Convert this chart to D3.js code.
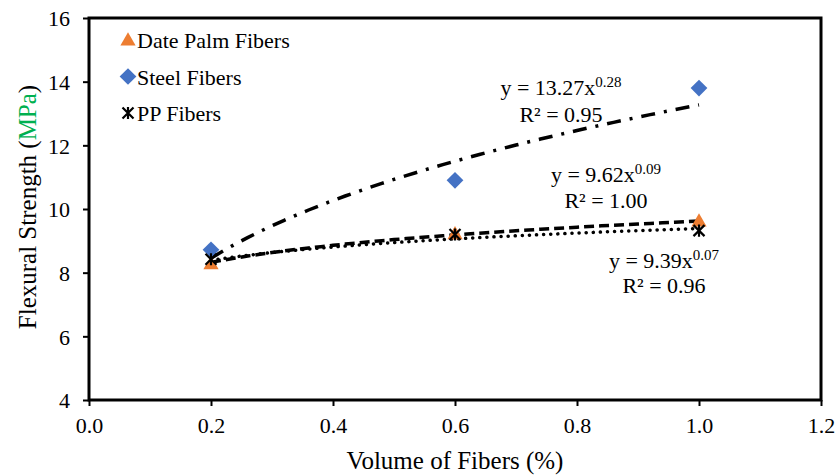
<!DOCTYPE html>
<html>
<head>
<meta charset="utf-8">
<script src="https://cdn.jsdelivr.net/npm/d3@7"></script>
<style>
  body { margin: 0; background: #fff; }
</style>
</head>
<body>
<div id="chart"></div>
<script>
// data
var volumes = [0.2, 0.6, 1.0];
var datePalm = [8.28, 9.22, 9.62];
var steel = [8.72, 10.9, 13.8];
var ppFibers = [8.42, 9.2, 9.32];

var xTicks = [0.0, 0.2, 0.4, 0.6, 0.8, 1.0, 1.2];
var yTicks = [4, 6, 8, 10, 12, 14, 16];

// power trendlines y = a*x^b as printed on the chart
var trendCoef = { steel: [13.27, 0.28], palm: [9.62, 0.09], pp: [9.39, 0.07] };

const width = 835, height = 476;
const margin = { left: 89, right: 14, top: 18, bottom: 76 };
const serif = "'Liberation Serif', 'Times New Roman', Times, serif";

var svg = d3.select("#chart").append("svg")
    .attr("width", width)
    .attr("height", height)
    .style("font-family", serif);

var x = d3.scaleLinear().domain([0, 1.2]).range([margin.left, width - margin.right]);
var y = d3.scaleLinear().domain([4, 16]).range([height - margin.bottom, margin.top]);

// axes
var xAxis = svg.append("g")
    .attr("transform", "translate(0," + y(4) + ")")
    .call(d3.axisBottom(x).tickValues(xTicks).tickFormat(d3.format(".1f")).tickSize(6).tickSizeOuter(0));
var yAxis = svg.append("g")
    .attr("transform", "translate(" + x(0) + ",0)")
    .call(d3.axisLeft(y).tickValues(yTicks).tickFormat(d3.format("d")).tickSize(6).tickSizeOuter(0));

[xAxis, yAxis].forEach(function(a) {
    a.style("font-family", serif);
    a.select(".domain").remove();
    a.selectAll(".tick line").attr("stroke", "#000").attr("stroke-width", 2);
    a.selectAll(".tick text").attr("font-size", 22).attr("fill", "#000").style("font-family", serif);
});
xAxis.selectAll(".tick text").attr("y", 33).attr("dy", 0);
yAxis.selectAll(".tick text").attr("x", -19).attr("dy", "0.35em");

// plot frame
svg.append("rect")
    .attr("x", x(0)).attr("y", y(16))
    .attr("width", x(1.2) - x(0)).attr("height", y(4) - y(16))
    .attr("fill", "none").attr("stroke", "#000").attr("stroke-width", 3);

// titles
svg.append("text")
    .attr("x", (x(0) + x(1.2)) / 2).attr("y", 469)
    .attr("text-anchor", "middle").attr("font-size", 25)
    .text("Volume of Fibers (%)");

var yt = svg.append("text")
    .attr("transform", "translate(36,207) rotate(-90)")
    .attr("text-anchor", "middle").attr("font-size", 25);
yt.append("tspan").text("Flexural Strength (");
yt.append("tspan").attr("fill", "#00B050").text("MPa");
yt.append("tspan").text(")");

// trendlines
var xs = d3.range(0, 41).map(function(i) { return 0.2 + i * 0.02; });
var line = d3.line().x(function(d) { return x(d[0]); }).y(function(d) { return y(d[1]); });
function trend(c) { return xs.map(function(v) { return [v, c[0] * Math.pow(v, c[1])]; }); }

svg.append("path").attr("d", line(trend(trendCoef.steel)))
    .attr("fill", "none").attr("stroke", "#000").attr("stroke-width", 3.5)
    .attr("stroke-dasharray", "14,9,3,9");
svg.append("path").attr("d", line(trend(trendCoef.palm)))
    .attr("fill", "none").attr("stroke", "#000").attr("stroke-width", 3.5)
    .attr("stroke-dasharray", "10,5");
svg.append("path").attr("d", line(trend(trendCoef.pp)))
    .attr("fill", "none").attr("stroke", "#000").attr("stroke-width", 3.5)
    .attr("stroke-linecap", "round").attr("stroke-dasharray", "0.1,7");

// markers
var triSym = d3.symbol().type(d3.symbolTriangle).size(100);
var diaSym = d3.symbol().type(d3.symbolSquare).size(140);

function drawTri(g, cx, cy) {
    g.append("path").attr("d", triSym()).attr("transform", "translate(" + cx + "," + (cy + 1) + ")")
        .attr("fill", "#ED7D31");
}
function drawDia(g, cx, cy) {
    g.append("path").attr("d", diaSym()).attr("transform", "translate(" + cx + "," + cy + ") rotate(45)")
        .attr("fill", "#4472C4");
}
function drawStar(g, cx, cy) {
    var s = 5.5;
    var p = "M" + (-s) + "," + (-s) + "L" + s + "," + s + "M" + (-s) + "," + s + "L" + s + "," + (-s) + "M0," + (-s * 1.1) + "L0," + (s * 1.1);
    g.append("path").attr("d", p).attr("transform", "translate(" + cx + "," + cy + ")")
        .attr("stroke", "#000").attr("stroke-width", 2.2).attr("fill", "none");
}

var marks = svg.append("g");
volumes.forEach(function(v, i) { drawTri(marks, x(v), y(datePalm[i])); });
volumes.forEach(function(v, i) { drawDia(marks, x(v), y(steel[i])); });
volumes.forEach(function(v, i) { drawStar(marks, x(v), y(ppFibers[i])); });

// legend
var legendNames = ["Date Palm Fibers", "Steel Fibers", "PP Fibers"];
var legend = svg.append("g");
var drawers = [drawTri, drawDia, drawStar];
legendNames.forEach(function(n, i) {
    var ly = 40 + i * 36.5;
    drawers[i](legend, 128, ly);
    legend.append("text").attr("x", 137).attr("y", ly + 8).attr("font-size", 22).text(n);
});

// equations
var eqs = [
    { a: "13.27", b: "0.28", r: "0.95", cx: 561, y1: 95, y2: 122 },
    { a: "9.62", b: "0.09", r: "1.00", cx: 606, y1: 182, y2: 208 },
    { a: "9.39", b: "0.07", r: "0.96", cx: 664, y1: 268, y2: 293 }
];
eqs.forEach(function(e) {
    var t = svg.append("text").attr("x", e.cx).attr("y", e.y1).attr("text-anchor", "middle").attr("font-size", 22);
    t.append("tspan").text("y = " + e.a + "x");
    t.append("tspan").attr("dy", -8).attr("font-size", 15).text(e.b);
    svg.append("text").attr("x", e.cx).attr("y", e.y2).attr("text-anchor", "middle").attr("font-size", 22)
        .text("R\u00B2 = " + e.r);
});
</script>
</body>
</html>
